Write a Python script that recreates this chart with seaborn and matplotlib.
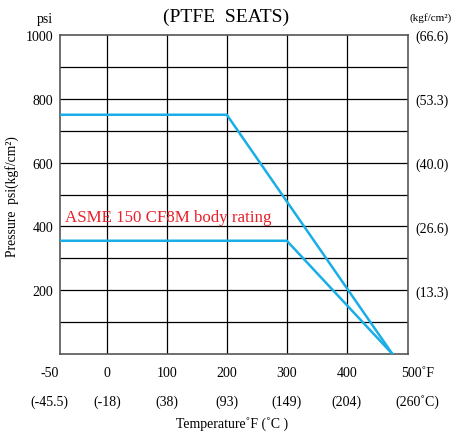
import matplotlib
matplotlib.use("Agg")
import matplotlib.pyplot as plt
import matplotlib.transforms as mtransforms
import seaborn as sns
import pandas as pd

# data
temp_upper = [-78, 200, 476]
psi_upper = [750, 750, 0]
temp_lower = [-78, 300, 476]
psi_lower = [355, 355, 0]

x_tick_pos = [-95, 0, 100, 200, 300, 400, 518]
x_tick_f = ["-50", "0", "100", "200", "300", "400", "500\u02DAF"]
x_tick_c = ["(-45.5)", "(-18)", "(38)", "(93)", "(149)", "(204)", "(260\u02DAC)"]
y_ticks = [200, 400, 600, 800, 1000]
y_right = ["(13.3)", "(26.6)", "(40.0)", "(53.3)", "(66.6)"]

sns.set_style("white")
plt.rcParams['font.family'] = ['Liberation Serif', 'DejaVu Serif']
plt.rcParams['text.color'] = 'black'

fig = plt.figure(figsize=(4.57, 4.35), dpi=100)
ax = fig.add_axes([60/457, 80/435, 348/457, 319/435])

df = pd.concat([
    pd.DataFrame({"t": temp_upper, "p": psi_upper, "s": "upper"}),
    pd.DataFrame({"t": temp_lower, "p": psi_lower, "s": "lower"}),
])
col = "#1aaee6"
sns.lineplot(data=df, x="t", y="p", units="s", estimator=None, sort=False,
             color=col, linewidth=1.8, ax=ax, zorder=5)

ax.set_xlim(-78, 502)
ax.set_ylim(0, 1000)
for xv in [0, 100, 200, 300, 400]:
    ax.axvline(xv, color="black", lw=0.9, zorder=1)
for yv in range(100, 1000, 100):
    ax.axhline(yv, color="black", lw=0.9, zorder=1)
for s in ax.spines.values():
    s.set_color("#555555")
    s.set_linewidth(1.2)

ax.set_xticks([])
ax.set_yticks(y_ticks)
ax.set_yticklabels([str(v) for v in y_ticks], fontsize=10)
ax.tick_params(axis="y", length=0, pad=5, labelcolor="black")
ax.set_xlabel("")
ax.set_ylabel("")

ax2 = ax.twinx()
ax2.set_ylim(0, 1000)
ax2.set_yticks(y_ticks)
ax2.set_yticklabels(y_right, fontsize=10)
ax2.tick_params(axis="y", length=0, pad=5, labelcolor="black")
for s in ax2.spines.values():
    s.set_visible(False)

trans = mtransforms.blended_transform_factory(ax.transData, ax.transAxes)
for xp, lf, lc in zip(x_tick_pos, x_tick_f, x_tick_c):
    ax.text(xp, -0.058, lf, transform=trans, ha="center", va="center", fontsize=10,
            clip_on=False, color="black")
    ax.text(xp, -0.147, lc, transform=trans, ha="center", va="center", fontsize=10,
            clip_on=False, color="black")

ax.text(-69, 430, "ASME 150 CF8M body rating", color="#e8202a", fontsize=12.2,
        ha="left", va="center", zorder=6)

fig.text(226/457, 1 - 17/435, "(PTFE  SEATS)", ha="center", va="center", fontsize=14)
fig.text(45/457, 1 - 20/435, "psi", ha="center", va="center", fontsize=10)
fig.text(431/457, 1 - 18/435, "(kgf/cm\u00b2)", ha="center", va="center", fontsize=8)
fig.text(12/457, 1 - 197/435, "Pressure  psi(kgf/cm\u00b2)", ha="center", va="center",
         rotation=90, fontsize=9.8)
fig.text(232/457, 1 - 424/435, "Temperature\u02DAF (\u02DAC )", ha="center", va="center", fontsize=10)

fig.savefig("out.png", dpi=100)
